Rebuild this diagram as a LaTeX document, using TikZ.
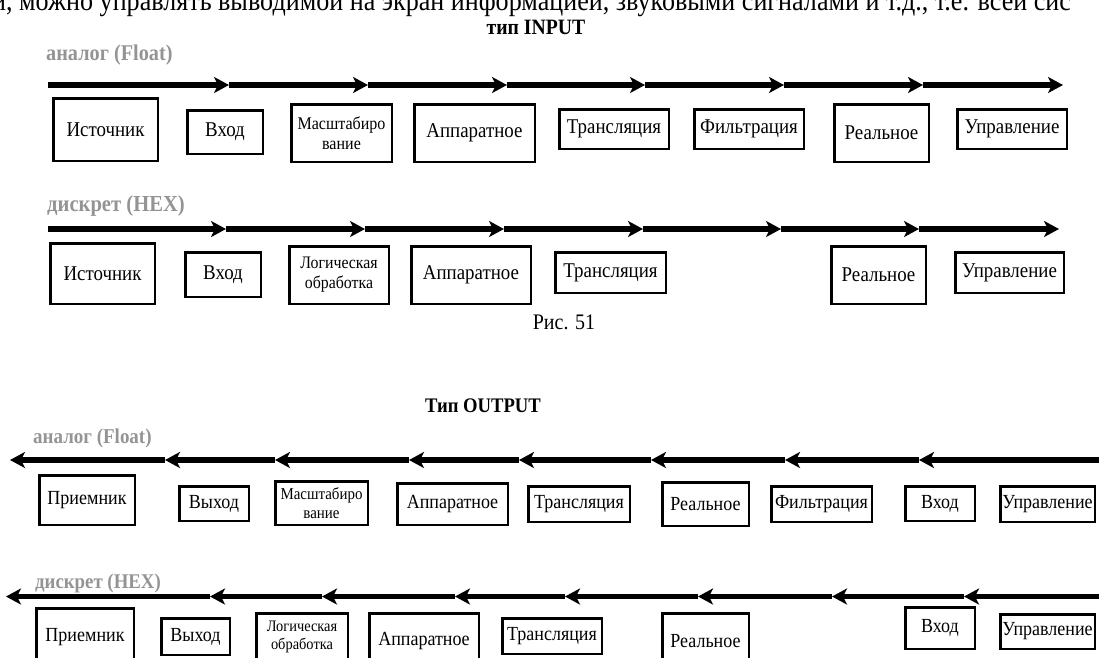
\documentclass[tikz,border=0pt]{standalone}
\usepackage{fontspec}
\setmainfont{Liberation Serif}[FakeStretch=0.9]
\usetikzlibrary{arrows.meta}
\newcommand\bx[7][]{%
  \node[box,#1,minimum width={#5-#3-2.5},minimum height={#6-#4-2.5}]
    (#2) at ({(#3+#5)/2},{(#4+#6)/2}) {#7};}
\begin{document}
\begin{tikzpicture}[x=1pt,y=-1pt,
  box/.style={draw,line width=2.5pt,inner sep=0pt,align=center,
    font=\fontsize{21}{23}\selectfont},
  boxs/.style={font=\fontsize{20}{22}\selectfont},
  twoline/.style={font=\fontsize{17.8}{20}\selectfont},
  twolineb/.style={font=\fontsize{17.6}{20}\selectfont},
  twolines/.style={font=\fontsize{16.6}{19}\selectfont},
  twolinesb/.style={font=\fontsize{16}{18.5}\selectfont},
  flow/.style={line width=5.5pt,-{Stealth[length=15pt,width=16pt,inset=4pt]}},
  lbl/.style={anchor=west,inner sep=0pt,text=black!42},
  ttl/.style={inner sep=0pt}]
\useasboundingbox (0,0) rectangle (1099,657);
\clip (0,0) rectangle (1099,657);

\node[anchor=base west,inner sep=0pt,font=\fontsize{29}{29}\selectfont] (toptext) at (-8,10)
  {и, можно управлять выводимой на экран информацией, звуковыми сигналами и т.д., т.е. всей сис};

% ---------- INPUT ----------
\node[ttl,font=\bfseries\fontsize{21.9}{24}\selectfont] (tin) at (536,27) {тип INPUT};
\node[lbl,font=\bfseries\fontsize{22.5}{24}\selectfont] (l1) at (46,55.5) {аналог (Float)};
\foreach \x [count=\i from 0] in {48,229,368,507,645,784,923,1063} \coordinate (r1-\i) at (\x,85);
\foreach \i [evaluate=\i as \j using int(\i-1)] in {1,...,7} \draw[flow] (r1-\j) -- (r1-\i);

\bx{a1}{52}{97}{159}{162}{Источник}
\bx{a2}{186}{109}{264}{155}{Вход}
\bx[twoline]{a3}{290}{103}{393}{163}{Масштабиро\\вание}
\bx{a4}{413}{103}{536}{163}{Аппаратное}
\bx{a5}{558}{108}{670}{150}{Трансляция}
\bx{a6}{693}{108}{805}{150}{Фильтрация}
\bx{a7}{833}{103}{930}{163}{Реальное}
\bx{a8}{956}{108}{1068}{150}{Управление}

\node[lbl,font=\bfseries\fontsize{22.9}{24}\selectfont] (l2) at (47,205.5) {дискрет (HEX)};
\foreach \x [count=\i from 0] in {48,226,365,504,643,781,919,1059} \coordinate (r2-\i) at (\x,229);
\foreach \i [evaluate=\i as \j using int(\i-1)] in {1,...,7} \draw[flow] (r2-\j) -- (r2-\i);

\bx{b1}{49}{242}{156}{305}{Источник}
\bx{b2}{184}{251}{262}{298}{Вход}
\bx[twolineb]{b3}{288}{245}{390}{305}{Логическая\\обработка}
\bx{b4}{410}{245}{532}{305}{Аппаратное}
\bx{b5}{554}{251}{667}{294}{Трансляция}
\bx{b6}{830}{245}{927}{305}{Реальное}
\bx{b7}{954}{251}{1065}{294}{Управление}

\node[inner sep=0pt,font=\fontsize{22.2}{24}\selectfont] (fig) at (564,322) {Рис. 51};

% ---------- OUTPUT ----------
\node[ttl,font=\bfseries\fontsize{20.7}{23}\selectfont] (tout) at (483,406) {Тип OUTPUT};
\node[lbl,font=\bfseries\fontsize{21.1}{23}\selectfont] (l3) at (33,438.5) {аналог (Float)};
\foreach \x [count=\i from 0] in {1115,919,785,651,519,409,275,165,10} \coordinate (r3-\i) at (\x,460);
\foreach \i [evaluate=\i as \j using int(\i-1)] in {1,...,8} \draw[flow] (r3-\j) -- (r3-\i);

\bx[boxs]{c1}{38}{474}{136}{526}{Приемник}
\bx[boxs]{c2}{178}{485}{250}{522}{Выход}
\bx[twolines]{c3}{274}{480}{369}{526}{Масштабиро\\вание}
\bx[boxs]{c4}{396}{482}{509}{526}{Аппаратное}
\bx[boxs]{c5}{527}{485}{631}{523}{Трансляция}
\bx[boxs]{c6}{661}{481}{750}{527}{Реальное}
\bx[boxs]{c7}{770}{485}{873}{523}{Фильтрация}
\bx[boxs]{c8}{904}{485}{976}{522}{Вход}
\bx[boxs]{c9}{999}{485}{1096}{523}{Управление}

\node[lbl,font=\bfseries\fontsize{20.9}{23}\selectfont] (l4) at (35,583) {дискрет (HEX)};
\foreach \x [count=\i from 0] in {1115,964,832,698,565,455,322,210,6} \coordinate (r4-\i) at (\x,596.5);
\foreach \i [evaluate=\i as \j using int(\i-1)] in {1,...,8} \draw[flow] (r4-\j) -- (r4-\i);

\bx[boxs]{d1}{35}{607}{135}{667}{Приемник}
\bx[boxs]{d2}{160}{617}{231}{656}{Выход}
\bx[twolinesb]{d3}{255}{612}{349}{662}{Логическая\\обработка}
\bx[boxs]{d4}{368}{612}{480}{670}{Аппаратное}
\bx[boxs]{d5}{501}{617}{603}{655}{Трансляция}
\bx[boxs]{d6}{661}{612}{750}{670}{Реальное}
\bx[boxs]{d7}{904}{606}{976}{650}{Вход}
\bx[boxs]{d8}{999}{613}{1096}{650}{Управление}
\end{tikzpicture}
\end{document}
